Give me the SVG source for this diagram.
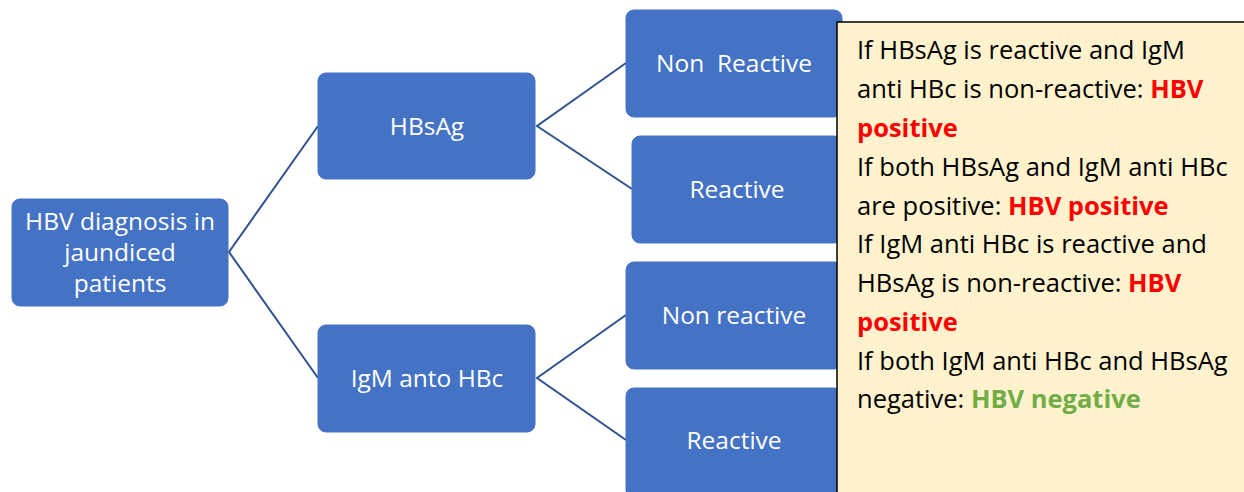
<svg xmlns="http://www.w3.org/2000/svg" width="1244" height="492" viewBox="0 0 1244 492">
<style>
.node{fill:#4472C4;stroke:#4472C4;stroke-width:1}
.nt{fill:#ffffff;font-family:"Open Sans","Liberation Sans",sans-serif;font-size:24.5px;text-anchor:middle}
.conn{stroke:#2F528F;stroke-width:2;fill:none}
.bt{fill:#000000;font-family:"Open Sans","Liberation Sans",sans-serif;font-size:25.5px}
.red{fill:#FF0000;font-weight:bold}
.green{fill:#70AD47;font-weight:bold}
</style>
<rect width="1244" height="492" fill="#ffffff"/>
<g id="connectors">
<polyline class="conn" points="318,126 229,252 318,378"/>
<polyline class="conn" points="626,63 537,126 632,189"/>
<polyline class="conn" points="626,315 537,378 626,440"/>
</g>
<g id="root">
<rect class="node" x="12" y="199" width="216" height="107" rx="8"/>
<text class="nt" x="120" y="230">HBV diagnosis in</text>
<text class="nt" x="120" y="261">jaundiced</text>
<text class="nt" x="120" y="292">patients</text>
</g>
<g id="hbsag">
<rect class="node" x="318" y="73" width="217" height="106" rx="8"/>
<text class="nt" x="427" y="135">HBsAg</text>
</g>
<g id="igm">
<rect class="node" x="318" y="325" width="217" height="107" rx="8"/>
<text class="nt" x="427" y="387">IgM anto HBc</text>
</g>
<g id="nonreactive1">
<rect class="node" x="626" y="10" width="216" height="107" rx="8"/>
<text class="nt" x="734" y="72" xml:space="preserve">Non  Reactive</text>
</g>
<g id="reactive1">
<rect class="node" x="632" y="136" width="210" height="107" rx="8"/>
<text class="nt" x="737" y="198">Reactive</text>
</g>
<g id="nonreactive2">
<rect class="node" x="626" y="262" width="216" height="107" rx="8"/>
<text class="nt" x="734" y="324">Non reactive</text>
</g>
<g id="reactive2">
<rect class="node" x="626" y="388" width="216" height="110" rx="8"/>
<text class="nt" x="734" y="449">Reactive</text>
</g>
<g id="notes">
<rect x="837" y="22" width="410" height="475" fill="#FFF2CC" stroke="#000000" stroke-width="1.5"/>
<text class="bt" x="857" y="59">If HBsAg is reactive and IgM</text>
<text class="bt" x="857" y="98">anti HBc is non-reactive: <tspan class="red">HBV</tspan></text>
<text class="bt" x="857" y="137"><tspan class="red">positive</tspan></text>
<text class="bt" x="857" y="176">If both HBsAg and IgM anti HBc</text>
<text class="bt" x="857" y="215">are positive: <tspan class="red">HBV positive</tspan></text>
<text class="bt" x="857" y="253">If IgM anti HBc is reactive and</text>
<text class="bt" x="857" y="292">HBsAg is non-reactive: <tspan class="red">HBV</tspan></text>
<text class="bt" x="857" y="331"><tspan class="red">positive</tspan></text>
<text class="bt" x="857" y="370">If both IgM anti HBc and HBsAg</text>
<text class="bt" x="857" y="408">negative: <tspan class="green">HBV negative</tspan></text>
</g>
</svg>
